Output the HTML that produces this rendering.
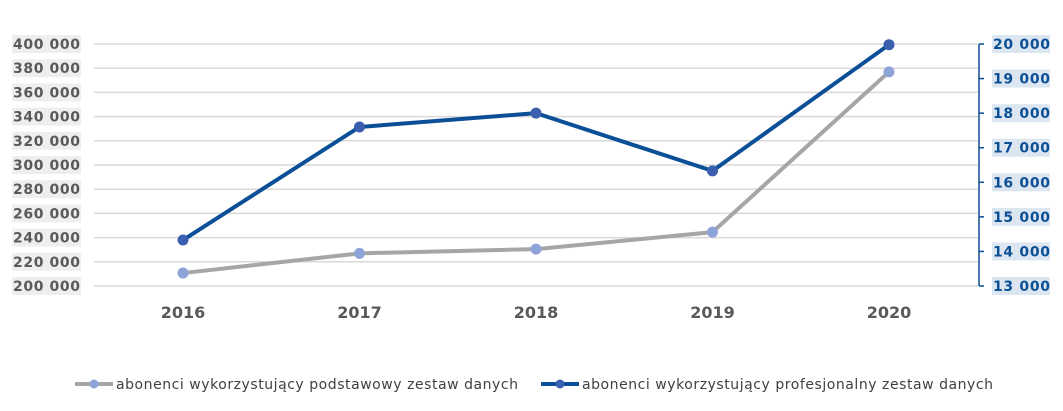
<!DOCTYPE html>
<html><head><meta charset="utf-8"><style>
html,body{margin:0;padding:0;background:#fff;width:1063px;height:411px;overflow:hidden}
svg{display:block;font-family:"DejaVu Sans","Liberation Sans",sans-serif}
</style></head><body>
<svg id="chart" width="1063" height="411" viewBox="0 0 1063 411"></svg>
<script>
const years = ['2016','2017','2018','2019','2020'];
const basicValues = [210700, 227000, 230500, 244500, 377000];
const proValues = [14330, 17600, 18000, 16330, 19980];
const leftTicks = [200000,220000,240000,260000,280000,300000,320000,340000,360000,380000,400000];
const rightTicks = [13000,14000,15000,16000,17000,18000,19000,20000];

const NS='http://www.w3.org/2000/svg';
const svg=document.getElementById('chart');
function mk(t,a,p){const e=document.createElementNS(NS,t);for(const k in a)e.setAttribute(k,a[k]);(p||svg).appendChild(e);return e;}
function fmt(v){return String(v).replace(/\B(?=(\d{3})+(?!\d))/g,' ');}
const plotTop=44,plotBot=286,x0=94,x1=978;
const yL=v=>plotBot-(v-200000)/(400000-200000)*(plotBot-plotTop);
const yR=v=>plotBot-(v-13000)/(20000-13000)*(plotBot-plotTop);
const xC=i=>183+i*176.5;

leftTicks.forEach(v=>{
  const y=yL(v);
  const g=mk('line',{x1:x0,x2:x1,y1:y,y2:y,stroke:'#d9d9d9','stroke-width':1.5});
  
  
  const r=mk('rect',{x:12,y:y-9,width:69,height:18,fill:'#eeeeee'});
  
  
  const t=mk('text',{x:80,y:y+5,'text-anchor':'end','font-size':14,'font-weight':'bold',fill:'#595959',textLength:67});
  t.textContent=fmt(v);
  
  
});
const ax=mk('line',{x1:979,x2:979,y1:plotTop,y2:plotBot,stroke:'#0b4f96','stroke-width':1.5});


rightTicks.forEach(v=>{
  const y=yR(v);
  const tk=mk('line',{x1:979,x2:984,y1:y,y2:y,stroke:'#0b4f96','stroke-width':1.5});
  
  
  const r=mk('rect',{x:992,y:y-9,width:58,height:18,fill:'#dce6f1'});
  
  
  const t=mk('text',{x:1050,y:y+5,'text-anchor':'end','font-size':14,'font-weight':'bold',fill:'#0b4f96',textLength:57});
  t.textContent=fmt(v);
  
  
});
years.forEach((yr,i)=>{
  const t=mk('text',{x:xC(i),y:318,'text-anchor':'middle','font-size':16,'font-weight':'bold',fill:'#595959'});
  t.textContent=yr;
  
  
});
function series(vals,yf,lc,mc,name){
  const pts=vals.map((v,i)=>xC(i)+','+yf(v)).join(' ');
  const l=mk('polyline',{points:pts,fill:'none',stroke:lc,'stroke-width':4,'stroke-linejoin':'round'});
  
  
  vals.forEach((v,i)=>{
    const c=mk('circle',{cx:xC(i),cy:yf(v),r:5.5,fill:mc});
    
    
  });
}
series(basicValues,yL,'#a6a6a6','#8ea3d8','basic-series');
series(proValues,yR,'#0b4f96','#3a5fae','pro-series');

function legend(x,text,w,lc,mc,name){
  const l=mk('line',{x1:x,x2:x+38,y1:384,y2:384,stroke:lc,'stroke-width':4});
  
  
  const c=mk('circle',{cx:x+19,cy:384,r:4.5,fill:mc});
  
  
  const t=mk('text',{x:x+41,y:389,'font-size':14,fill:'#404040',textLength:w});
  t.textContent=text;
  
  
}
legend(75,'abonenci wykorzystujący podstawowy zestaw danych',402,'#a6a6a6','#8ea3d8','legend-basic');
legend(541,'abonenci wykorzystujący profesjonalny zestaw danych',411,'#0b4f96','#3a5fae','legend-pro');
</script>
</body></html>
